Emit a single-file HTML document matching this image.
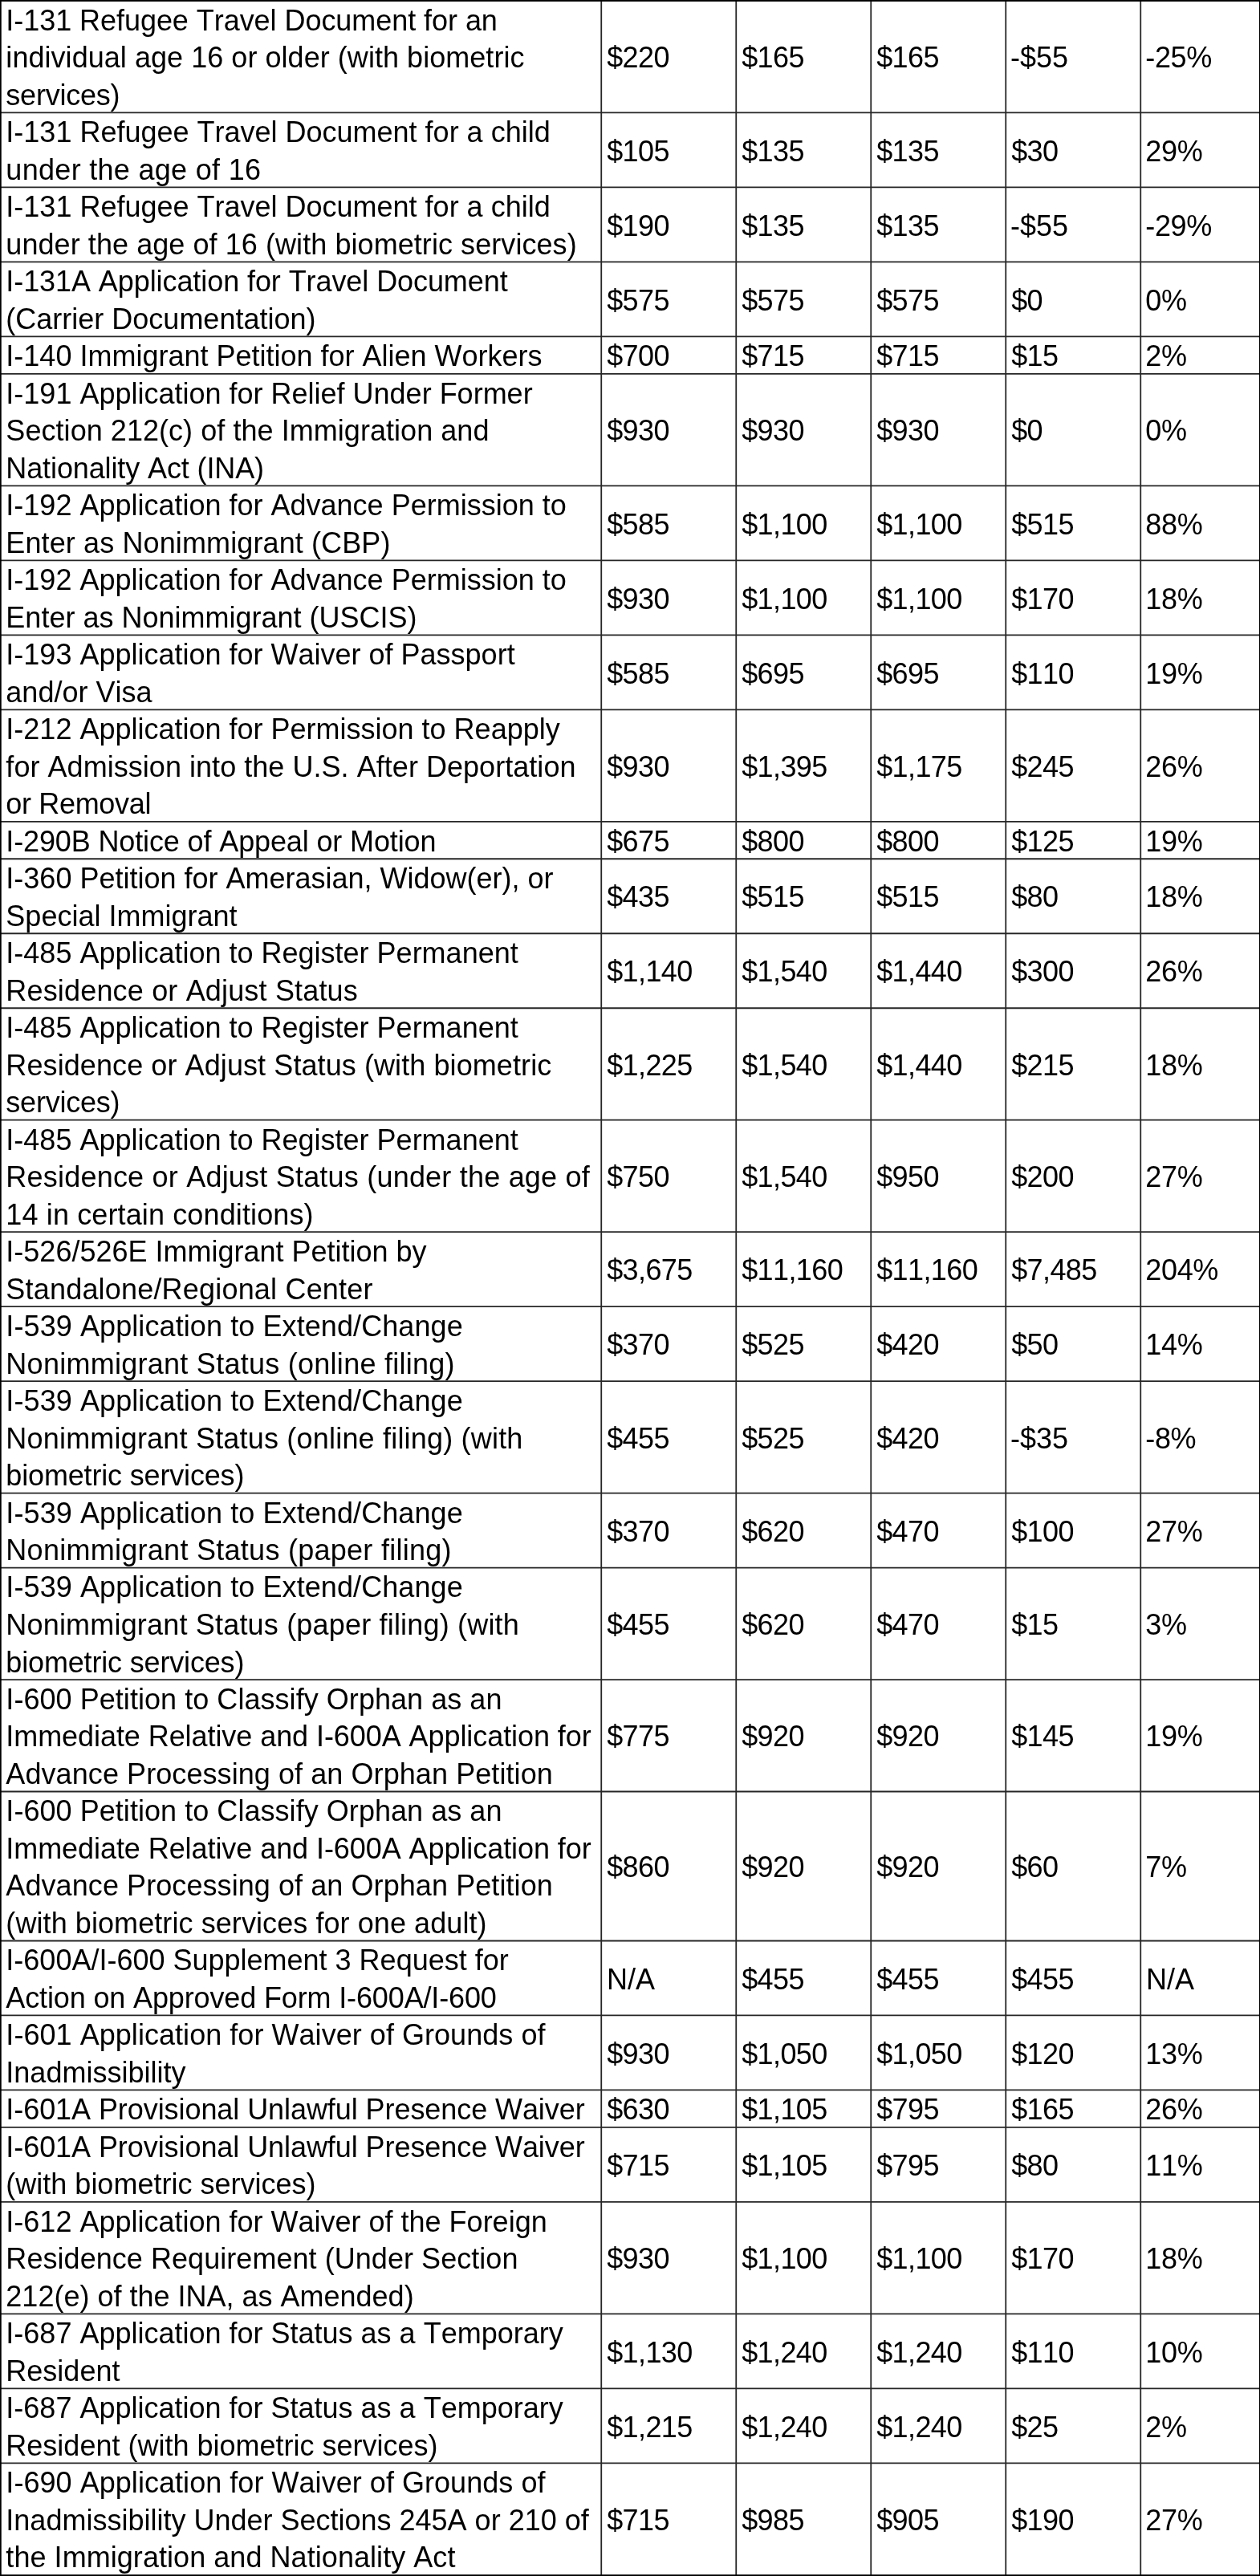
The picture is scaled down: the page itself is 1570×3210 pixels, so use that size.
<!DOCTYPE html>
<html><head><meta charset="utf-8"><style>
html,body{margin:0;padding:0;background:#fff;width:1570px;height:3210px;overflow:hidden}
.t{position:absolute;font-family:"Liberation Sans",sans-serif;font-size:36px;line-height:46px;white-space:nowrap;color:#000;font-kerning:none;font-variant-ligatures:none;font-feature-settings:"liga" 0,"clig" 0,"kern" 0}
svg{position:absolute;left:0;top:0}
#tx{position:absolute;left:0;top:0;width:1570px;height:3210px;will-change:transform}
</style></head><body>
<svg width="1570" height="3210" viewBox="0 0 1570 3210" stroke="#262626" stroke-width="1.8">
<line x1="0" y1="140.47" x2="1570" y2="140.47"/>
<line x1="0" y1="233.45" x2="1570" y2="233.45"/>
<line x1="0" y1="326.43" x2="1570" y2="326.43"/>
<line x1="0" y1="419.41" x2="1570" y2="419.41"/>
<line x1="0" y1="465.90" x2="1570" y2="465.90"/>
<line x1="0" y1="605.37" x2="1570" y2="605.37"/>
<line x1="0" y1="698.35" x2="1570" y2="698.35"/>
<line x1="0" y1="791.33" x2="1570" y2="791.33"/>
<line x1="0" y1="884.31" x2="1570" y2="884.31"/>
<line x1="0" y1="1023.78" x2="1570" y2="1023.78"/>
<line x1="0" y1="1070.27" x2="1570" y2="1070.27"/>
<line x1="0" y1="1163.25" x2="1570" y2="1163.25"/>
<line x1="0" y1="1256.23" x2="1570" y2="1256.23"/>
<line x1="0" y1="1395.70" x2="1570" y2="1395.70"/>
<line x1="0" y1="1535.17" x2="1570" y2="1535.17"/>
<line x1="0" y1="1628.15" x2="1570" y2="1628.15"/>
<line x1="0" y1="1721.13" x2="1570" y2="1721.13"/>
<line x1="0" y1="1860.60" x2="1570" y2="1860.60"/>
<line x1="0" y1="1953.58" x2="1570" y2="1953.58"/>
<line x1="0" y1="2093.05" x2="1570" y2="2093.05"/>
<line x1="0" y1="2232.52" x2="1570" y2="2232.52"/>
<line x1="0" y1="2418.48" x2="1570" y2="2418.48"/>
<line x1="0" y1="2511.46" x2="1570" y2="2511.46"/>
<line x1="0" y1="2604.44" x2="1570" y2="2604.44"/>
<line x1="0" y1="2650.93" x2="1570" y2="2650.93"/>
<line x1="0" y1="2743.91" x2="1570" y2="2743.91"/>
<line x1="0" y1="2883.38" x2="1570" y2="2883.38"/>
<line x1="0" y1="2976.36" x2="1570" y2="2976.36"/>
<line x1="0" y1="3069.34" x2="1570" y2="3069.34"/>
<line x1="749.25" y1="0" x2="749.25" y2="3210"/>
<line x1="917.25" y1="0" x2="917.25" y2="3210"/>
<line x1="1085.25" y1="0" x2="1085.25" y2="3210"/>
<line x1="1253.25" y1="0" x2="1253.25" y2="3210"/>
<line x1="1421.25" y1="0" x2="1421.25" y2="3210"/>
<rect x="0" y="0" width="1570" height="1.9" fill="#000" stroke="none"/>
<rect x="0" y="0" width="1.75" height="3210" fill="#000" stroke="none"/>
<rect x="1568.9" y="0" width="1.1" height="3210" fill="#000" stroke="none"/>
<rect x="0" y="3208.2" width="1570" height="1.8" fill="#000" stroke="none"/>
</svg>
<div id="tx">
<div class="t" style="left:7.35px;top:2.89px;letter-spacing:-0.051px">I-131 Refugee Travel Document for an</div>
<div class="t" style="left:7.35px;top:49.44px;letter-spacing:0.044px">individual age 16 or older (with biometric</div>
<div class="t" style="left:7.35px;top:95.99px;letter-spacing:-0.225px">services)</div>
<div class="t" style="left:756.15px;top:49.44px;letter-spacing:-0.6px">$220</div>
<div class="t" style="left:924.15px;top:49.44px;letter-spacing:-0.6px">$165</div>
<div class="t" style="left:1092.15px;top:49.44px;letter-spacing:-0.6px">$165</div>
<div class="t" style="left:1258.95px;top:49.44px">-$55</div>
<div class="t" style="left:1427.25px;top:49.44px;letter-spacing:-0.33px">-25%</div>
<div class="t" style="left:7.35px;top:142.38px">I-131 Refugee Travel Document for a child</div>
<div class="t" style="left:7.35px;top:188.94px;letter-spacing:0.300px">under the age of 16</div>
<div class="t" style="left:756.15px;top:165.66px;letter-spacing:-0.6px">$105</div>
<div class="t" style="left:924.15px;top:165.66px;letter-spacing:-0.6px">$135</div>
<div class="t" style="left:1092.15px;top:165.66px;letter-spacing:-0.6px">$135</div>
<div class="t" style="left:1260.15px;top:165.66px;letter-spacing:-0.6px">$30</div>
<div class="t" style="left:1427.25px;top:165.66px;letter-spacing:-0.33px">29%</div>
<div class="t" style="left:7.35px;top:235.37px">I-131 Refugee Travel Document for a child</div>
<div class="t" style="left:7.35px;top:281.91px;letter-spacing:0.068px">under the age of 16 (with biometric services)</div>
<div class="t" style="left:756.15px;top:258.64px;letter-spacing:-0.6px">$190</div>
<div class="t" style="left:924.15px;top:258.64px;letter-spacing:-0.6px">$135</div>
<div class="t" style="left:1092.15px;top:258.64px;letter-spacing:-0.6px">$135</div>
<div class="t" style="left:1258.95px;top:258.64px">-$55</div>
<div class="t" style="left:1427.25px;top:258.64px;letter-spacing:-0.33px">-29%</div>
<div class="t" style="left:7.35px;top:328.35px;letter-spacing:-0.081px">I-131A Application for Travel Document</div>
<div class="t" style="left:7.35px;top:374.89px">(Carrier Documentation)</div>
<div class="t" style="left:756.15px;top:351.62px;letter-spacing:-0.6px">$575</div>
<div class="t" style="left:924.15px;top:351.62px;letter-spacing:-0.6px">$575</div>
<div class="t" style="left:1092.15px;top:351.62px;letter-spacing:-0.6px">$575</div>
<div class="t" style="left:1260.15px;top:351.62px;letter-spacing:-0.6px">$0</div>
<div class="t" style="left:1427.25px;top:351.62px;letter-spacing:-0.33px">0%</div>
<div class="t" style="left:7.35px;top:421.36px">I-140 Immigrant Petition for Alien Workers</div>
<div class="t" style="left:756.15px;top:421.36px;letter-spacing:-0.6px">$700</div>
<div class="t" style="left:924.15px;top:421.36px;letter-spacing:-0.6px">$715</div>
<div class="t" style="left:1092.15px;top:421.36px;letter-spacing:-0.6px">$715</div>
<div class="t" style="left:1260.15px;top:421.36px;letter-spacing:-0.6px">$15</div>
<div class="t" style="left:1427.25px;top:421.36px;letter-spacing:-0.33px">2%</div>
<div class="t" style="left:7.35px;top:467.79px">I-191 Application for Relief Under Former</div>
<div class="t" style="left:7.35px;top:514.34px;letter-spacing:0.050px">Section 212(c) of the Immigration and</div>
<div class="t" style="left:7.35px;top:560.88px;letter-spacing:-0.120px">Nationality Act (INA)</div>
<div class="t" style="left:756.15px;top:514.34px;letter-spacing:-0.6px">$930</div>
<div class="t" style="left:924.15px;top:514.34px;letter-spacing:-0.6px">$930</div>
<div class="t" style="left:1092.15px;top:514.34px;letter-spacing:-0.6px">$930</div>
<div class="t" style="left:1260.15px;top:514.34px;letter-spacing:-0.6px">$0</div>
<div class="t" style="left:1427.25px;top:514.34px;letter-spacing:-0.33px">0%</div>
<div class="t" style="left:7.35px;top:607.29px">I-192 Application for Advance Permission to</div>
<div class="t" style="left:7.35px;top:653.84px;letter-spacing:0.115px">Enter as Nonimmigrant (CBP)</div>
<div class="t" style="left:756.15px;top:630.56px;letter-spacing:-0.6px">$585</div>
<div class="t" style="left:924.15px;top:630.56px;letter-spacing:-0.6px">$1,100</div>
<div class="t" style="left:1092.15px;top:630.56px;letter-spacing:-0.6px">$1,100</div>
<div class="t" style="left:1260.15px;top:630.56px;letter-spacing:-0.6px">$515</div>
<div class="t" style="left:1427.25px;top:630.56px;letter-spacing:-0.33px">88%</div>
<div class="t" style="left:7.35px;top:700.27px">I-192 Application for Advance Permission to</div>
<div class="t" style="left:7.35px;top:746.82px">Enter as Nonimmigrant (USCIS)</div>
<div class="t" style="left:756.15px;top:723.54px;letter-spacing:-0.6px">$930</div>
<div class="t" style="left:924.15px;top:723.54px;letter-spacing:-0.6px">$1,100</div>
<div class="t" style="left:1092.15px;top:723.54px;letter-spacing:-0.6px">$1,100</div>
<div class="t" style="left:1260.15px;top:723.54px;letter-spacing:-0.6px">$170</div>
<div class="t" style="left:1427.25px;top:723.54px;letter-spacing:-0.33px">18%</div>
<div class="t" style="left:7.35px;top:793.25px">I-193 Application for Waiver of Passport</div>
<div class="t" style="left:7.35px;top:839.80px">and/or Visa</div>
<div class="t" style="left:756.15px;top:816.52px;letter-spacing:-0.6px">$585</div>
<div class="t" style="left:924.15px;top:816.52px;letter-spacing:-0.6px">$695</div>
<div class="t" style="left:1092.15px;top:816.52px;letter-spacing:-0.6px">$695</div>
<div class="t" style="left:1260.15px;top:816.52px;letter-spacing:-0.6px">$110</div>
<div class="t" style="left:1427.25px;top:816.52px;letter-spacing:-0.33px">19%</div>
<div class="t" style="left:7.35px;top:886.20px">I-212 Application for Permission to Reapply</div>
<div class="t" style="left:7.35px;top:932.75px;letter-spacing:0.041px">for Admission into the U.S. After Deportation</div>
<div class="t" style="left:7.35px;top:979.30px;letter-spacing:-0.333px">or Removal</div>
<div class="t" style="left:756.15px;top:932.75px;letter-spacing:-0.6px">$930</div>
<div class="t" style="left:924.15px;top:932.75px;letter-spacing:-0.6px">$1,395</div>
<div class="t" style="left:1092.15px;top:932.75px;letter-spacing:-0.6px">$1,175</div>
<div class="t" style="left:1260.15px;top:932.75px;letter-spacing:-0.6px">$245</div>
<div class="t" style="left:1427.25px;top:932.75px;letter-spacing:-0.33px">26%</div>
<div class="t" style="left:7.35px;top:1025.73px;letter-spacing:-0.131px">I-290B Notice of Appeal or Motion</div>
<div class="t" style="left:756.15px;top:1025.73px;letter-spacing:-0.6px">$675</div>
<div class="t" style="left:924.15px;top:1025.73px;letter-spacing:-0.6px">$800</div>
<div class="t" style="left:1092.15px;top:1025.73px;letter-spacing:-0.6px">$800</div>
<div class="t" style="left:1260.15px;top:1025.73px;letter-spacing:-0.6px">$125</div>
<div class="t" style="left:1427.25px;top:1025.73px;letter-spacing:-0.33px">19%</div>
<div class="t" style="left:7.35px;top:1072.18px">I-360 Petition for Amerasian, Widow(er), or</div>
<div class="t" style="left:7.35px;top:1118.74px">Special Immigrant</div>
<div class="t" style="left:756.15px;top:1095.46px;letter-spacing:-0.6px">$435</div>
<div class="t" style="left:924.15px;top:1095.46px;letter-spacing:-0.6px">$515</div>
<div class="t" style="left:1092.15px;top:1095.46px;letter-spacing:-0.6px">$515</div>
<div class="t" style="left:1260.15px;top:1095.46px;letter-spacing:-0.6px">$80</div>
<div class="t" style="left:1427.25px;top:1095.46px;letter-spacing:-0.33px">18%</div>
<div class="t" style="left:7.35px;top:1165.16px">I-485 Application to Register Permanent</div>
<div class="t" style="left:7.35px;top:1211.72px;letter-spacing:0.168px">Residence or Adjust Status</div>
<div class="t" style="left:756.15px;top:1188.44px;letter-spacing:-0.6px">$1,140</div>
<div class="t" style="left:924.15px;top:1188.44px;letter-spacing:-0.6px">$1,540</div>
<div class="t" style="left:1092.15px;top:1188.44px;letter-spacing:-0.6px">$1,440</div>
<div class="t" style="left:1260.15px;top:1188.44px;letter-spacing:-0.6px">$300</div>
<div class="t" style="left:1427.25px;top:1188.44px;letter-spacing:-0.33px">26%</div>
<div class="t" style="left:7.35px;top:1258.12px">I-485 Application to Register Permanent</div>
<div class="t" style="left:7.35px;top:1304.67px;letter-spacing:0.088px">Residence or Adjust Status (with biometric</div>
<div class="t" style="left:7.35px;top:1351.22px;letter-spacing:-0.225px">services)</div>
<div class="t" style="left:756.15px;top:1304.67px;letter-spacing:-0.6px">$1,225</div>
<div class="t" style="left:924.15px;top:1304.67px;letter-spacing:-0.6px">$1,540</div>
<div class="t" style="left:1092.15px;top:1304.67px;letter-spacing:-0.6px">$1,440</div>
<div class="t" style="left:1260.15px;top:1304.67px;letter-spacing:-0.6px">$215</div>
<div class="t" style="left:1427.25px;top:1304.67px;letter-spacing:-0.33px">18%</div>
<div class="t" style="left:7.35px;top:1397.59px">I-485 Application to Register Permanent</div>
<div class="t" style="left:7.35px;top:1444.13px;letter-spacing:0.209px">Residence or Adjust Status (under the age of</div>
<div class="t" style="left:7.35px;top:1490.68px;letter-spacing:0.125px">14 in certain conditions)</div>
<div class="t" style="left:756.15px;top:1444.13px;letter-spacing:-0.6px">$750</div>
<div class="t" style="left:924.15px;top:1444.13px;letter-spacing:-0.6px">$1,540</div>
<div class="t" style="left:1092.15px;top:1444.13px;letter-spacing:-0.6px">$950</div>
<div class="t" style="left:1260.15px;top:1444.13px;letter-spacing:-0.6px">$200</div>
<div class="t" style="left:1427.25px;top:1444.13px;letter-spacing:-0.33px">27%</div>
<div class="t" style="left:7.35px;top:1537.09px">I-526/526E Immigrant Petition by</div>
<div class="t" style="left:7.35px;top:1583.64px;letter-spacing:0.192px">Standalone/Regional Center</div>
<div class="t" style="left:756.15px;top:1560.36px;letter-spacing:-0.6px">$3,675</div>
<div class="t" style="left:924.15px;top:1560.36px;letter-spacing:-0.6px">$11,160</div>
<div class="t" style="left:1092.15px;top:1560.36px;letter-spacing:-0.6px">$11,160</div>
<div class="t" style="left:1260.15px;top:1560.36px;letter-spacing:-0.6px">$7,485</div>
<div class="t" style="left:1427.25px;top:1560.36px;letter-spacing:-0.33px">204%</div>
<div class="t" style="left:7.35px;top:1630.07px;letter-spacing:0.091px">I-539 Application to Extend/Change</div>
<div class="t" style="left:7.35px;top:1676.62px;letter-spacing:0.265px">Nonimmigrant Status (online filing)</div>
<div class="t" style="left:756.15px;top:1653.34px;letter-spacing:-0.6px">$370</div>
<div class="t" style="left:924.15px;top:1653.34px;letter-spacing:-0.6px">$525</div>
<div class="t" style="left:1092.15px;top:1653.34px;letter-spacing:-0.6px">$420</div>
<div class="t" style="left:1260.15px;top:1653.34px;letter-spacing:-0.6px">$50</div>
<div class="t" style="left:1427.25px;top:1653.34px;letter-spacing:-0.33px">14%</div>
<div class="t" style="left:7.35px;top:1723.02px;letter-spacing:0.091px">I-539 Application to Extend/Change</div>
<div class="t" style="left:7.35px;top:1769.57px;letter-spacing:0.195px">Nonimmigrant Status (online filing) (with</div>
<div class="t" style="left:7.35px;top:1816.12px;letter-spacing:-0.167px">biometric services)</div>
<div class="t" style="left:756.15px;top:1769.57px;letter-spacing:-0.6px">$455</div>
<div class="t" style="left:924.15px;top:1769.57px;letter-spacing:-0.6px">$525</div>
<div class="t" style="left:1092.15px;top:1769.57px;letter-spacing:-0.6px">$420</div>
<div class="t" style="left:1258.95px;top:1769.57px">-$35</div>
<div class="t" style="left:1427.25px;top:1769.57px;letter-spacing:-0.33px">-8%</div>
<div class="t" style="left:7.35px;top:1862.52px;letter-spacing:0.091px">I-539 Application to Extend/Change</div>
<div class="t" style="left:7.35px;top:1909.07px;letter-spacing:0.273px">Nonimmigrant Status (paper filing)</div>
<div class="t" style="left:756.15px;top:1885.79px;letter-spacing:-0.6px">$370</div>
<div class="t" style="left:924.15px;top:1885.79px;letter-spacing:-0.6px">$620</div>
<div class="t" style="left:1092.15px;top:1885.79px;letter-spacing:-0.6px">$470</div>
<div class="t" style="left:1260.15px;top:1885.79px;letter-spacing:-0.6px">$100</div>
<div class="t" style="left:1427.25px;top:1885.79px;letter-spacing:-0.33px">27%</div>
<div class="t" style="left:7.35px;top:1955.47px;letter-spacing:0.091px">I-539 Application to Extend/Change</div>
<div class="t" style="left:7.35px;top:2002.02px;letter-spacing:0.185px">Nonimmigrant Status (paper filing) (with</div>
<div class="t" style="left:7.35px;top:2048.57px;letter-spacing:-0.167px">biometric services)</div>
<div class="t" style="left:756.15px;top:2002.02px;letter-spacing:-0.6px">$455</div>
<div class="t" style="left:924.15px;top:2002.02px;letter-spacing:-0.6px">$620</div>
<div class="t" style="left:1092.15px;top:2002.02px;letter-spacing:-0.6px">$470</div>
<div class="t" style="left:1260.15px;top:2002.02px;letter-spacing:-0.6px">$15</div>
<div class="t" style="left:1427.25px;top:2002.02px;letter-spacing:-0.33px">3%</div>
<div class="t" style="left:7.35px;top:2094.93px;letter-spacing:0.047px">I-600 Petition to Classify Orphan as an</div>
<div class="t" style="left:7.35px;top:2141.48px;letter-spacing:-0.068px">Immediate Relative and I-600A Application for</div>
<div class="t" style="left:7.35px;top:2188.03px;letter-spacing:0.077px">Advance Processing of an Orphan Petition</div>
<div class="t" style="left:756.15px;top:2141.48px;letter-spacing:-0.6px">$775</div>
<div class="t" style="left:924.15px;top:2141.48px;letter-spacing:-0.6px">$920</div>
<div class="t" style="left:1092.15px;top:2141.48px;letter-spacing:-0.6px">$920</div>
<div class="t" style="left:1260.15px;top:2141.48px;letter-spacing:-0.6px">$145</div>
<div class="t" style="left:1427.25px;top:2141.48px;letter-spacing:-0.33px">19%</div>
<div class="t" style="left:7.35px;top:2234.38px;letter-spacing:0.047px">I-600 Petition to Classify Orphan as an</div>
<div class="t" style="left:7.35px;top:2280.92px;letter-spacing:-0.068px">Immediate Relative and I-600A Application for</div>
<div class="t" style="left:7.35px;top:2327.47px;letter-spacing:0.077px">Advance Processing of an Orphan Petition</div>
<div class="t" style="left:7.35px;top:2374.02px;letter-spacing:0.079px">(with biometric services for one adult)</div>
<div class="t" style="left:756.15px;top:2304.20px;letter-spacing:-0.6px">$860</div>
<div class="t" style="left:924.15px;top:2304.20px;letter-spacing:-0.6px">$920</div>
<div class="t" style="left:1092.15px;top:2304.20px;letter-spacing:-0.6px">$920</div>
<div class="t" style="left:1260.15px;top:2304.20px;letter-spacing:-0.6px">$60</div>
<div class="t" style="left:1427.25px;top:2304.20px;letter-spacing:-0.33px">7%</div>
<div class="t" style="left:7.35px;top:2420.39px">I-600A/I-600 Supplement 3 Request for</div>
<div class="t" style="left:7.35px;top:2466.95px;letter-spacing:-0.137px">Action on Approved Form I-600A/I-600</div>
<div class="t" style="left:756.05px;top:2443.67px">N/A</div>
<div class="t" style="left:924.15px;top:2443.67px;letter-spacing:-0.6px">$455</div>
<div class="t" style="left:1092.15px;top:2443.67px;letter-spacing:-0.6px">$455</div>
<div class="t" style="left:1260.15px;top:2443.67px;letter-spacing:-0.6px">$455</div>
<div class="t" style="left:1428.05px;top:2443.67px">N/A</div>
<div class="t" style="left:7.35px;top:2513.37px;letter-spacing:0.044px">I-601 Application for Waiver of Grounds of</div>
<div class="t" style="left:7.35px;top:2559.92px">Inadmissibility</div>
<div class="t" style="left:756.15px;top:2536.65px;letter-spacing:-0.6px">$930</div>
<div class="t" style="left:924.15px;top:2536.65px;letter-spacing:-0.6px">$1,050</div>
<div class="t" style="left:1092.15px;top:2536.65px;letter-spacing:-0.6px">$1,050</div>
<div class="t" style="left:1260.15px;top:2536.65px;letter-spacing:-0.6px">$120</div>
<div class="t" style="left:1427.25px;top:2536.65px;letter-spacing:-0.33px">13%</div>
<div class="t" style="left:7.35px;top:2606.39px;letter-spacing:-0.071px">I-601A Provisional Unlawful Presence Waiver</div>
<div class="t" style="left:756.15px;top:2606.39px;letter-spacing:-0.6px">$630</div>
<div class="t" style="left:924.15px;top:2606.39px;letter-spacing:-0.6px">$1,105</div>
<div class="t" style="left:1092.15px;top:2606.39px;letter-spacing:-0.6px">$795</div>
<div class="t" style="left:1260.15px;top:2606.39px;letter-spacing:-0.6px">$165</div>
<div class="t" style="left:1427.25px;top:2606.39px;letter-spacing:-0.33px">26%</div>
<div class="t" style="left:7.35px;top:2652.84px;letter-spacing:-0.071px">I-601A Provisional Unlawful Presence Waiver</div>
<div class="t" style="left:7.35px;top:2699.39px">(with biometric services)</div>
<div class="t" style="left:756.15px;top:2676.12px;letter-spacing:-0.6px">$715</div>
<div class="t" style="left:924.15px;top:2676.12px;letter-spacing:-0.6px">$1,105</div>
<div class="t" style="left:1092.15px;top:2676.12px;letter-spacing:-0.6px">$795</div>
<div class="t" style="left:1260.15px;top:2676.12px;letter-spacing:-0.6px">$80</div>
<div class="t" style="left:1427.25px;top:2676.12px;letter-spacing:-0.33px">11%</div>
<div class="t" style="left:7.35px;top:2745.80px">I-612 Application for Waiver of the Foreign</div>
<div class="t" style="left:7.35px;top:2792.35px;letter-spacing:0.051px">Residence Requirement (Under Section</div>
<div class="t" style="left:7.35px;top:2838.90px">212(e) of the INA, as Amended)</div>
<div class="t" style="left:756.15px;top:2792.35px;letter-spacing:-0.6px">$930</div>
<div class="t" style="left:924.15px;top:2792.35px;letter-spacing:-0.6px">$1,100</div>
<div class="t" style="left:1092.15px;top:2792.35px;letter-spacing:-0.6px">$1,100</div>
<div class="t" style="left:1260.15px;top:2792.35px;letter-spacing:-0.6px">$170</div>
<div class="t" style="left:1427.25px;top:2792.35px;letter-spacing:-0.33px">18%</div>
<div class="t" style="left:7.35px;top:2885.29px">I-687 Application for Status as a Temporary</div>
<div class="t" style="left:7.35px;top:2931.84px">Resident</div>
<div class="t" style="left:756.15px;top:2908.57px;letter-spacing:-0.6px">$1,130</div>
<div class="t" style="left:924.15px;top:2908.57px;letter-spacing:-0.6px">$1,240</div>
<div class="t" style="left:1092.15px;top:2908.57px;letter-spacing:-0.6px">$1,240</div>
<div class="t" style="left:1260.15px;top:2908.57px;letter-spacing:-0.6px">$110</div>
<div class="t" style="left:1427.25px;top:2908.57px;letter-spacing:-0.33px">10%</div>
<div class="t" style="left:7.35px;top:2978.28px">I-687 Application for Status as a Temporary</div>
<div class="t" style="left:7.35px;top:3024.83px">Resident (with biometric services)</div>
<div class="t" style="left:756.15px;top:3001.55px;letter-spacing:-0.6px">$1,215</div>
<div class="t" style="left:924.15px;top:3001.55px;letter-spacing:-0.6px">$1,240</div>
<div class="t" style="left:1092.15px;top:3001.55px;letter-spacing:-0.6px">$1,240</div>
<div class="t" style="left:1260.15px;top:3001.55px;letter-spacing:-0.6px">$25</div>
<div class="t" style="left:1427.25px;top:3001.55px;letter-spacing:-0.33px">2%</div>
<div class="t" style="left:7.35px;top:3071.22px;letter-spacing:0.044px">I-690 Application for Waiver of Grounds of</div>
<div class="t" style="left:7.35px;top:3117.77px">Inadmissibility Under Sections 245A or 210 of</div>
<div class="t" style="left:7.35px;top:3164.32px;letter-spacing:0.053px">the Immigration and Nationality Act</div>
<div class="t" style="left:756.15px;top:3117.77px;letter-spacing:-0.6px">$715</div>
<div class="t" style="left:924.15px;top:3117.77px;letter-spacing:-0.6px">$985</div>
<div class="t" style="left:1092.15px;top:3117.77px;letter-spacing:-0.6px">$905</div>
<div class="t" style="left:1260.15px;top:3117.77px;letter-spacing:-0.6px">$190</div>
<div class="t" style="left:1427.25px;top:3117.77px;letter-spacing:-0.33px">27%</div>
</div>
</body></html>
